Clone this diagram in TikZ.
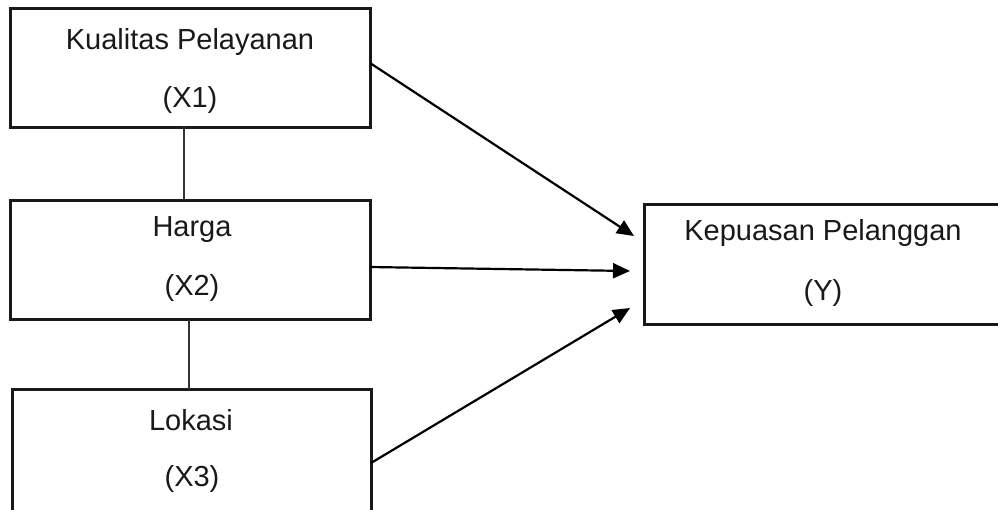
\documentclass[tikz,border=0pt]{standalone}
\usepackage{fontspec}
\setmainfont{Liberation Sans}
\usetikzlibrary{arrows.meta}
\begin{document}
\begin{tikzpicture}[x=1pt,y=-1pt,
  box/.style={draw=black!90, line width=3pt, rectangle, inner sep=0pt},
  lbl/.style={font=\fontsize{29}{34}\selectfont, inner sep=0pt, text=black!90},
  link/.style={draw=black!80, line width=1.5pt},
  arr/.style={draw=black, line width=2.2pt, -{Triangle[length=17pt,width=15pt]}}]
\useasboundingbox (0,0) rectangle (998,509);
\clip (0,0) rectangle (998,509);
% boxes
\node[box, minimum width=360pt, minimum height=119pt] (x1) at (190,67.5) {};
\node[box, minimum width=360pt, minimum height=119pt] (x2) at (190,259.5) {};
\node[box, minimum width=359pt, minimum height=136pt] (x3) at (191.5,457) {};
\node[box, minimum width=360pt, minimum height=120pt] (y) at (824,264) {};
% texts
\node[lbl] (t1a) at (190,42) {Kualitas Pelayanan};
\node[lbl] (t1b) at (190,100) {(X1)};
\node[lbl] (t2a) at (192,230) {Harga};
\node[lbl] (t2b) at (192,288) {(X2)};
\node[lbl] (t3a) at (191,420) {Lokasi};
\node[lbl] (t3b) at (192,479) {(X3)};
\node[lbl] (tya) at (823,233) {Kepuasan Pelanggan};
\node[lbl] (tyb) at (823,293) {(Y)};
% vertical links
\draw[link] (184,127) -- (184,200);
\draw[link] (189,320) -- (189,389);
% arrows
\coordinate (a1s) at (370,63);
\coordinate (a1e) at (634,236);
\coordinate (a2s) at (370,267);
\coordinate (a2e) at (630,271);
\coordinate (a3s) at (371,463);
\coordinate (a3e) at (630,308);
\draw[arr] (a1s) -- (a1e);
\draw[arr] (a2s) -- (a2e);
\draw[arr] (a3s) -- (a3e);
\end{tikzpicture}
\end{document}
